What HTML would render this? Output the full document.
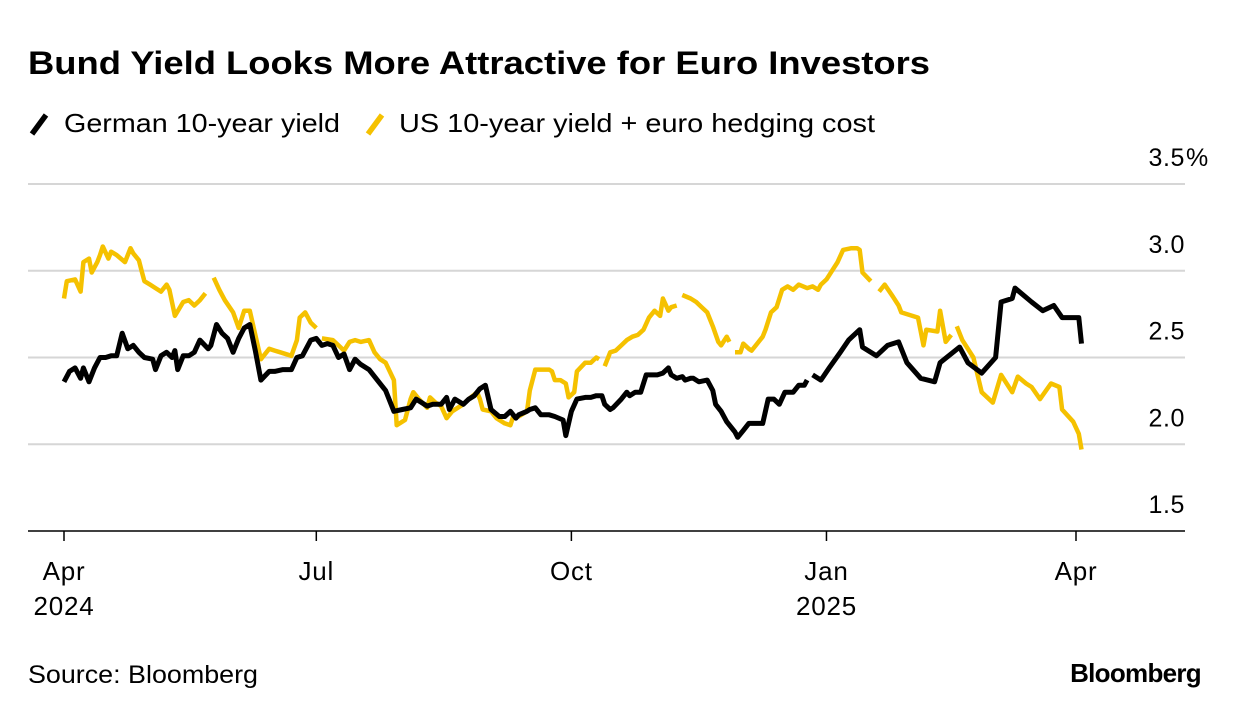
<!DOCTYPE html>
<html><head><meta charset="utf-8"><style>
body{margin:0;background:#fff;font-family:"Liberation Sans",Arial,sans-serif;}
svg{display:block}
</style></head><body>
<svg width="1240" height="716" id="c">
<text x="28" y="74" font-size="32" font-weight="bold" fill="#000" textLength="902" lengthAdjust="spacingAndGlyphs">Bund Yield Looks More Attractive for Euro Investors</text>
<g>
<line x1="32" y1="134" x2="46" y2="115" stroke="#000" stroke-width="5.5"/>
<text x="64" y="132" font-size="26" textLength="276" lengthAdjust="spacingAndGlyphs">German 10-year yield</text>
<line x1="368" y1="134" x2="382" y2="115" stroke="#f5c100" stroke-width="5.5"/>
<text x="399" y="132" font-size="26" textLength="476" lengthAdjust="spacingAndGlyphs">US 10-year yield + euro hedging cost</text>
</g>
<g id="grid"></g><g id="series"></g><g id="xaxis"></g>
<text x="28" y="683" font-size="25" textLength="230" lengthAdjust="spacingAndGlyphs">Source: Bloomberg</text>
<text x="1201" y="682" font-size="26" font-weight="bold" text-anchor="end" letter-spacing="-0.7">Bloomberg</text>
</svg>
<script>
const yTicks=[1.5,2.0,2.5,3.0,3.5];
const yTickLabels=["1.5","2.0","2.5","3.0","3.5"];
const xTickDays=[0,91,183,275,365];
const xTickLabels=["Apr","Jul","Oct","Jan","Apr"];
const xTickYears=["2024","","","2025",""];
const germanDays=[0,2,4,6,7,9,11,13,15,17,19,21,23,25,27,29,32,33,35,37,39,40,41,43,45,47,49,52,53,55,57,59,61,63,65,67,69,71,74,76,79,82,84,86,89,91,93,95,97,99,101,103,105,107,110,113,116,119,122,125,127,129,131,133,136,138,139,141,144,146,148,150,152,154,157,159,161,163,164,167,168,170,172,175,177,180,181,183,185,188,190,192,194,195,197,198,201,203,204,206,208,210,212,214,216,218,219,221,223,224,226,227,229,232,234,235,237,239,242,243,245,247,250,252,254,256,258,260,263,265,267,268,269,270,273,276,280,283,287,288,293,297,301,304,309,314,316,323,326,331,336,338,342,343,349,353,357,360,364,366,367];
const germanVals=[2.36,2.42,2.44,2.38,2.44,2.36,2.44,2.50,2.50,2.51,2.51,2.64,2.55,2.57,2.53,2.50,2.49,2.43,2.51,2.53,2.50,2.54,2.43,2.51,2.51,2.53,2.60,2.55,2.57,2.69,2.64,2.61,2.53,2.61,2.67,2.69,2.54,2.37,2.42,2.42,2.43,2.43,2.50,2.51,2.60,2.61,2.57,2.58,2.57,2.50,2.52,2.43,2.49,2.46,2.43,2.37,2.31,2.19,2.20,2.21,2.26,2.24,2.22,2.23,2.23,2.27,2.20,2.26,2.23,2.26,2.28,2.32,2.34,2.20,2.16,2.16,2.19,2.15,2.17,2.19,2.20,2.21,2.17,2.17,2.16,2.14,2.05,2.19,2.26,2.27,2.27,2.28,2.28,2.23,2.20,2.21,2.26,2.30,2.28,2.30,2.30,2.40,2.40,2.40,2.41,2.44,2.40,2.38,2.39,2.37,2.38,2.38,2.36,2.37,2.31,2.23,2.19,2.13,2.07,2.04,2.08,2.12,2.12,2.12,2.26,2.26,2.23,2.30,2.30,2.34,2.34,2.37,null,2.40,2.37,2.44,2.53,2.60,2.66,2.56,2.51,2.57,2.59,2.47,2.38,2.36,2.47,2.56,2.47,2.41,2.50,2.82,2.84,2.90,2.82,2.77,2.80,2.73,2.73,2.73,2.58];
const usDays=[0,1,4,6,7,9,10,12,13,14,16,17,19,22,24,25,27,28,29,31,33,35,37,38,40,43,45,47,49,51,52,54,56,58,61,63,65,67,69,71,74,76,78,82,84,85,87,89,91,92,93,97,99,101,103,105,107,110,112,114,116,119,120,123,125,126,128,131,132,134,136,138,140,142,144,146,149,150,151,154,156,157,159,161,162,164,167,168,170,172,175,176,177,179,181,182,184,185,188,190,192,193,194,195,197,199,201,203,205,207,209,211,213,215,216,218,219,221,222,223,226,228,230,232,234,236,237,239,240,241,242,244,245,247,248,250,252,253,255,257,259,261,263,265,268,270,272,273,275,277,279,281,284,286,287,288,291,292,294,296,299,301,302,308,310,311,315,316,318,320,321,322,324,328,331,335,338,342,344,347,349,352,356,359,360,364,366,367];
const usVals=[2.84,2.94,2.95,2.88,3.05,3.07,2.99,3.05,3.09,3.14,3.07,3.11,3.09,3.05,3.13,3.10,3.06,3.00,2.94,2.92,2.90,2.88,2.92,2.89,2.74,2.82,2.83,2.80,2.83,2.87,null,2.96,2.89,2.83,2.76,2.67,2.77,2.77,2.63,2.49,2.55,2.54,2.53,2.51,2.60,2.73,2.76,2.70,2.67,null,2.61,2.60,2.57,2.54,2.59,2.60,2.59,2.60,2.53,2.49,2.47,2.37,2.11,2.14,2.26,2.30,2.26,2.21,2.27,2.24,2.22,2.15,2.19,2.21,2.23,2.26,2.30,2.26,2.20,2.19,2.15,2.14,2.12,2.11,2.16,2.16,2.19,2.31,2.43,2.43,2.43,2.42,2.37,2.37,2.35,2.27,2.30,2.42,2.47,2.47,2.50,2.49,null,2.45,2.53,2.54,2.57,2.60,2.62,2.63,2.66,2.73,2.77,2.74,2.84,2.77,2.79,2.80,null,2.86,2.84,2.82,2.79,2.76,2.68,2.59,2.57,2.62,2.59,null,2.53,2.53,2.58,2.55,2.54,2.58,2.62,2.66,2.76,2.79,2.89,2.91,2.89,2.92,2.90,2.91,2.89,2.92,2.95,3.00,3.05,3.12,3.13,3.13,3.12,2.99,2.94,null,2.88,2.92,2.85,2.80,2.76,2.73,2.57,2.66,2.65,2.77,2.59,2.63,null,2.68,2.60,2.50,2.30,2.24,2.40,2.30,2.39,2.35,2.33,2.26,2.35,2.33,2.20,2.13,2.06,1.97];

const NS="http://www.w3.org/2000/svg";
const X0=64,PXD=(1076-64)/365,Y35=184,PXV=173.5,XL=28,XR=1185;
function xs(d){return X0+d*PXD;}
function ys(v){return Y35+(3.5-v)*PXV;}
function mk(tag,attrs,parent){const e=document.createElementNS(NS,tag);for(const k in attrs)e.setAttribute(k,attrs[k]);parent.appendChild(e);return e;}
const grid=document.getElementById('grid');
yTicks.forEach((v,i)=>{
  const y=ys(v);
  const l=mk('line',{x1:XL,x2:XR,y1:y,y2:y,stroke:i===0?'#000':'#d6d6d6','stroke-width':i===0?1.5:2},grid);
  
  
  const t=mk('text',{x:XR,y:y-18,'font-size':25,'text-anchor':'end','letter-spacing':'0.6'},grid);
  t.textContent=yTickLabels[i];
  
  
  if(i===yTicks.length-1){const p=mk('text',{x:XR+1,y:y-18,'font-size':25},grid);p.textContent='%';
    
    }
});
const xa=document.getElementById('xaxis');
xTickDays.forEach((d,i)=>{
  const x=xs(d);
  const tk=mk('line',{x1:x,x2:x,y1:ys(1.5),y2:ys(1.5)+10,stroke:'#000','stroke-width':1.5},xa);
  
  
  const t=mk('text',{x:x,y:580,'font-size':26,'text-anchor':'middle','letter-spacing':'0.8'},xa);
  t.textContent=xTickLabels[i];
  
  
  if(xTickYears[i]){const t2=mk('text',{x:x,y:615,'font-size':26,'text-anchor':'middle','letter-spacing':'0.8'},xa);t2.textContent=xTickYears[i];
    
    }
});
function pathD(days,vals){let d='',pen=false;days.forEach((dd,i)=>{const v=vals[i];if(v===null){pen=false;return;}d+=(pen?'L':'M')+xs(dd).toFixed(1)+' '+ys(v).toFixed(1)+' ';pen=true;});return d;}
const sg=document.getElementById('series');
const py=mk('path',{d:pathD(usDays,usVals),fill:'none',stroke:'#f5c100','stroke-width':4.5,'stroke-linejoin':'round'},sg);


const pg=mk('path',{d:pathD(germanDays,germanVals),fill:'none',stroke:'#000','stroke-width':5,'stroke-linejoin':'round'},sg);


</script>
</body></html>
